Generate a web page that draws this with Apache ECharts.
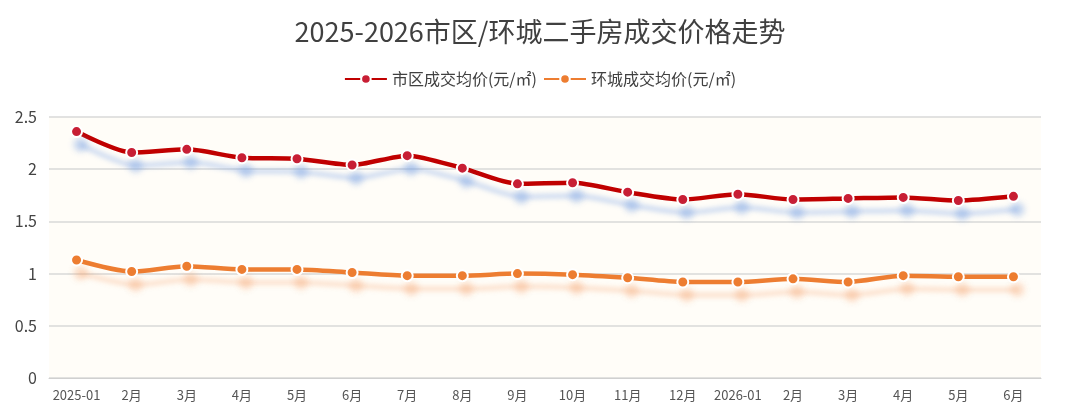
<!DOCTYPE html>
<html>
<head>
<meta charset="utf-8">
<script src="https://cdn.jsdelivr.net/npm/echarts@6/dist/echarts.min.js"></script>
<style>
  html, body { margin: 0; padding: 0; background: #fff; }
  #main { width: 1080px; height: 418px; }
</style>
</head>
<body>
<div id="main"></div>
<script>
// 月份
var months = ['2025-01', '2月', '3月', '4月', '5月', '6月', '7月', '8月', '9月', '10月', '11月', '12月',
              '2026-01', '2月', '3月', '4月', '5月', '6月'];
// 市区成交均价 (元/㎡)
var cityPrice = [2.36, 2.16, 2.19, 2.11, 2.10, 2.04, 2.13, 2.01, 1.86, 1.87, 1.78, 1.71,
                 1.76, 1.71, 1.72, 1.73, 1.70, 1.74];
// 环城成交均价 (元/㎡)
var ringPrice = [1.13, 1.02, 1.07, 1.04, 1.04, 1.01, 0.98, 0.98, 1.00, 0.99, 0.96, 0.92,
                 0.92, 0.95, 0.92, 0.98, 0.97, 0.97];
var yTicks = [0, 0.5, 1, 1.5, 2, 2.5];

var font = '"Microsoft YaHei", "Noto Sans CJK SC", sans-serif';

function makeSeries(name, data, lineColor, dotColor, shadow) {
    return {
        name: name,
        type: 'line',
        data: data,
        smooth: 0.25,
        symbol: 'circle',
        symbolSize: 11,
        lineStyle: {
            width: 4.5,
            color: lineColor,
            shadowColor: shadow,
            shadowBlur: 5,
            shadowOffsetX: 4,
            shadowOffsetY: 13
        },
        itemStyle: {
            color: dotColor,
            borderColor: '#fff',
            borderWidth: 2,
            shadowColor: shadow,
            shadowBlur: 6,
            shadowOffsetX: 4,
            shadowOffsetY: 13
        }
    };
}

var chart = echarts.init(document.getElementById('main'));
chart.setOption({
    backgroundColor: '#fff',
    animation: false,
    textStyle: { fontFamily: font },
    title: {
        text: '2025-2026市区/环城二手房成交价格走势',
        left: 'center',
        top: 13,
        textStyle: { fontSize: 27, fontWeight: 'normal', color: '#404040', fontFamily: font }
    },
    legend: {
        top: 66,
        left: 'center',
        itemWidth: 42,
        itemHeight: 12,
        itemGap: 6,
        textStyle: { fontSize: 16, color: '#404040', fontFamily: font }
    },
    grid: {
        left: 49, right: 39, top: 117, bottom: 40,
        show: true,
        backgroundColor: '#FFFDF8',
        borderWidth: 0
    },
    xAxis: {
        type: 'category',
        data: months,
        boundaryGap: true,
        axisLine: { lineStyle: { color: '#d0d0d0' } },
        axisTick: { show: false },
        axisLabel: { color: '#555', fontSize: 13, margin: 11, interval: 0 }
    },
    yAxis: {
        type: 'value',
        min: yTicks[0],
        max: yTicks[yTicks.length - 1],
        interval: 0.5,
        axisLine: { show: false },
        axisTick: { show: false },
        axisLabel: { color: '#444', fontSize: 16, margin: 12 },
        splitLine: { lineStyle: { color: '#d9d9d9', width: 1.5 } }
    },
    series: [
        makeSeries('市区成交均价(元/㎡)', cityPrice, '#C00000', '#C81E34', 'rgba(125,165,228,0.42)'),
        makeSeries('环城成交均价(元/㎡)', ringPrice, '#ED7D31', '#ED7D31', 'rgba(245,165,110,0.34)')
    ]
});
</script>
</body>
</html>
